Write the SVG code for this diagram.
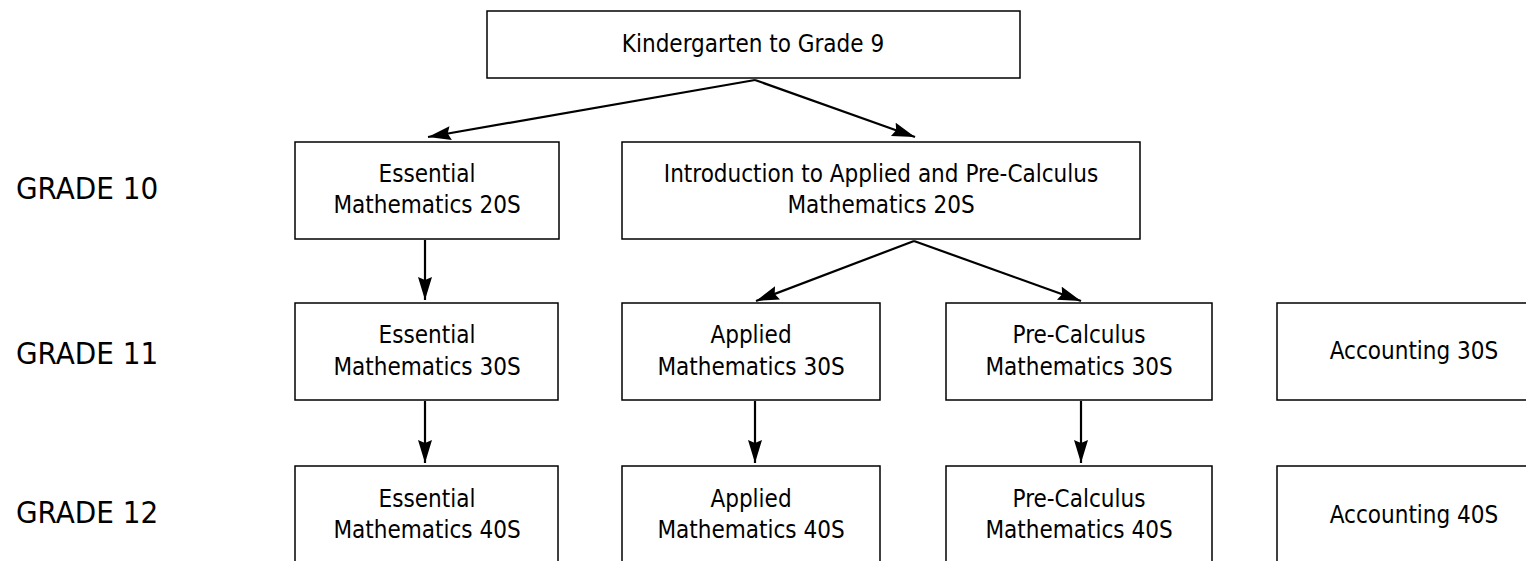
<svg xmlns="http://www.w3.org/2000/svg" width="1526" height="561" viewBox="0 0 1526 561">
<defs>
<style>
.box{fill:#fff;stroke:#000;stroke-width:1.5}
.t{font-family:"DejaVu Sans Condensed","DejaVu Sans",sans-serif;font-stretch:condensed;font-size:24px;fill:#000;text-anchor:middle}
.g{font-family:"DejaVu Sans Condensed","DejaVu Sans",sans-serif;font-stretch:condensed;font-size:31px;fill:#000}
.c{stroke:#000;stroke-width:2.2;fill:none;marker-end:url(#ah)}
</style>
<marker id="ah" markerUnits="userSpaceOnUse" markerWidth="26" markerHeight="16" refX="23" refY="7" orient="auto">
<path d="M0,0 L23,7 L0,14 L3,7 z" fill="#000"/>
</marker>
</defs>
<rect width="1526" height="561" fill="#fff"/>
<text class="g" x="16" y="199">GRADE 10</text>
<text class="g" x="16" y="364">GRADE 11</text>
<text class="g" x="16" y="523">GRADE 12</text>
<g id="connectors">
<line class="c" x1="755" y1="80" x2="428" y2="137"/>
<line class="c" x1="755" y1="80" x2="915" y2="137"/>
<line class="c" x1="425" y1="240" x2="425" y2="300"/>
<line class="c" x1="914" y1="241" x2="756" y2="301"/>
<line class="c" x1="914" y1="241" x2="1081" y2="301"/>
<line class="c" x1="425" y1="401" x2="425" y2="463"/>
<line class="c" x1="755" y1="401" x2="755" y2="463"/>
<line class="c" x1="1081" y1="401" x2="1081" y2="463"/>
</g>
<g id="k9"><rect class="box" x="487" y="11" width="533" height="67"/><text class="t" x="753" y="52">Kindergarten to Grade 9</text></g>
<g id="ess20"><rect class="box" x="295" y="142" width="264" height="97"/><text class="t" x="427" y="182">Essential</text><text class="t" x="427" y="213">Mathematics 20S</text></g>
<g id="intro20"><rect class="box" x="622" y="142" width="518" height="97"/><text class="t" x="881" y="182">Introduction to Applied and Pre-Calculus</text><text class="t" x="881" y="213">Mathematics 20S</text></g>
<g id="ess30"><rect class="box" x="295" y="303" width="263" height="97"/><text class="t" x="427" y="343">Essential</text><text class="t" x="427" y="375">Mathematics 30S</text></g>
<g id="app30"><rect class="box" x="622" y="303" width="258" height="97"/><text class="t" x="751" y="343">Applied</text><text class="t" x="751" y="375">Mathematics 30S</text></g>
<g id="pre30"><rect class="box" x="946" y="303" width="266" height="97"/><text class="t" x="1079" y="343">Pre-Calculus</text><text class="t" x="1079" y="375">Mathematics 30S</text></g>
<g id="acc30"><rect class="box" x="1277" y="303" width="280" height="97"/><text class="t" x="1414" y="359">Accounting 30S</text></g>
<g id="ess40"><rect class="box" x="295" y="466" width="263" height="110"/><text class="t" x="427" y="507">Essential</text><text class="t" x="427" y="538">Mathematics 40S</text></g>
<g id="app40"><rect class="box" x="622" y="466" width="258" height="110"/><text class="t" x="751" y="507">Applied</text><text class="t" x="751" y="538">Mathematics 40S</text></g>
<g id="pre40"><rect class="box" x="946" y="466" width="266" height="110"/><text class="t" x="1079" y="507">Pre-Calculus</text><text class="t" x="1079" y="538">Mathematics 40S</text></g>
<g id="acc40"><rect class="box" x="1277" y="466" width="280" height="110"/><text class="t" x="1414" y="523">Accounting 40S</text></g>
</svg>
